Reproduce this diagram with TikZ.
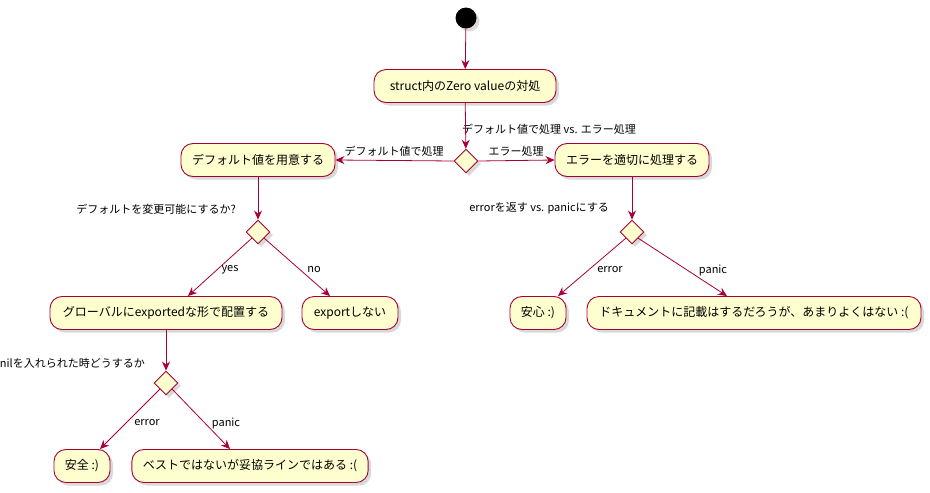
\documentclass[tikz,border=0pt]{standalone}
\usepackage{fontspec}
\setmainfont{Noto Sans CJK JP}
\usepackage{tikz}
\usetikzlibrary{arrows.meta,shapes.geometric,shadows}
\definecolor{UMLRed}{HTML}{A80036}
\definecolor{UMLFill}{HTML}{FEFECE}
\tikzset{
  umlshadow/.style={drop shadow={shadow xshift=3pt,shadow yshift=-3pt,opacity=0.3}},
  act/.style={draw=UMLRed,fill=UMLFill,line width=0.9pt,rounded corners=12pt,
    minimum height=33pt,inner xsep=11pt,font=\fontsize{12}{14}\selectfont,umlshadow},
  choice/.style={diamond,draw=UMLRed,fill=UMLFill,line width=0.9pt,
    minimum size=24pt,inner sep=0pt,umlshadow},
  flow/.style={draw=UMLRed,line width=0.8pt,-{Stealth[length=9pt,width=8pt,inset=3pt]}},
  lbl/.style={font=\fontsize{11}{13}\selectfont,inner sep=1pt},
}

\begin{document}
\begin{tikzpicture}[x=1pt,y=-1pt]
  \useasboundingbox (0,0) rectangle (930,493);

  % start and first action
  \node[circle,fill=black,minimum size=21pt,inner sep=0pt,umlshadow] (start) at (466,18) {};
  \node[act,minimum width=182pt] (zero) at (465,86) {struct内のZero valueの対処};
  \node[choice] (d1) at (466,161) {};
  \node[lbl,anchor=west] (q1) at (461,129) {デフォルト値で処理 vs. エラー処理};

  % two branches
  \node[act,minimum width=153pt] (dflt) at (258,160) {デフォルト値を用意する};
  \node[act,minimum width=154pt] (err) at (632,160) {エラーを適切に処理する};
  \node[lbl] (l1) at (394,151) {デフォルト値で処理};
  \node[lbl] (l2) at (516,151) {エラー処理};

  % default branch
  \node[choice] (d2) at (258,232) {};
  \node[lbl,anchor=east] (q2) at (237,209) {デフォルトを変更可能にするか?};
  \node[act,minimum width=232pt] (glob) at (166,313) {グローバルにexportedな形で配置する};
  \node[act,minimum width=96pt] (noexp) at (350,313) {exportしない};
  \node[lbl] (l3) at (230,270) {yes};
  \node[lbl] (l4) at (314,270) {no};

  \node[choice] (d3) at (166,383) {};
  \node[lbl,anchor=east] (q3) at (146,363) {nilを入れられた時どうするか};
  \node[act,minimum width=56pt] (safe) at (82,466) {安全 :)};
  \node[act,minimum width=235pt] (best) at (250,466) {ベストではないが妥協ラインではある :(};
  \node[lbl] (l5) at (147,423) {error};
  \node[lbl] (l6) at (226,423) {panic};

  % error branch
  \node[choice] (d4) at (632,232) {};
  \node[lbl,anchor=east] (q4) at (610,208) {errorを返す vs. panicにする};
  \node[act,minimum width=56pt] (relief) at (538,313) {安心 :)};
  \node[act,minimum width=334pt] (doc) at (754,313) {ドキュメントに記載はするだろうが、あまりよくはない :(};
  \node[lbl] (l7) at (610,270) {error};
  \node[lbl] (l8) at (713,270) {panic};

  % connectors
  \draw[flow] (start) -- (zero);
  \draw[flow] (zero) -- (d1);
  \draw[flow] (d1.west) -- (dflt.east);
  \draw[flow] (d1.east) -- (err.west);
  \draw[flow] (dflt) -- (d2);
  \draw[flow] (err) -- (d4);
  \draw[flow] (d2.south west) -- ([xshift=22pt]glob.north);
  \draw[flow] (d2.south east) -- ([xshift=-20pt]noexp.north);
  \draw[flow] (glob) -- (d3);
  \draw[flow] (d3.south west) -- ([xshift=18pt]safe.north);
  \draw[flow] (d3.south east) -- ([xshift=-20pt]best.north);
  \draw[flow] (d4.south west) -- ([xshift=20pt]relief.north);
  \draw[flow] (d4.south east) -- ([xshift=-27pt]doc.north);
\end{tikzpicture}
\end{document}
